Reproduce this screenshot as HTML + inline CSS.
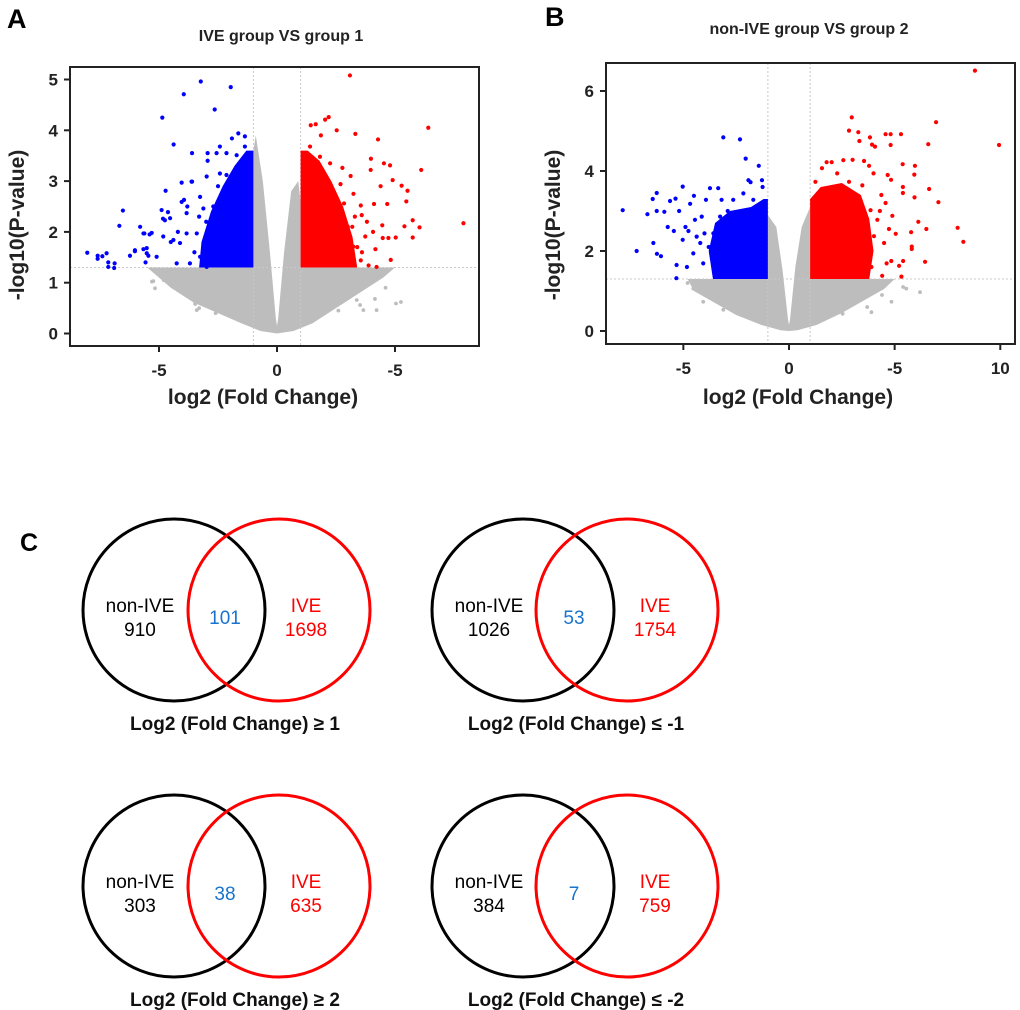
<!DOCTYPE html>
<html><head><meta charset="utf-8">
<style>
html,body{margin:0;padding:0;background:#fff;}
svg{display:block;font-family:"Liberation Sans",Arial,sans-serif;}
</style></head>
<body>
<svg id="fig" width="1020" height="1010" viewBox="0 0 1020 1010" xmlns="http://www.w3.org/2000/svg">
  <text x="7" y="28" font-size="27" font-weight="bold">A</text>
  <text x="545" y="26" font-size="27" font-weight="bold">B</text>
  <text x="20" y="551" font-size="25" font-weight="bold">C</text>
  <g id="plotA"></g>
  <g id="plotB"></g>
  <g id="venns"></g>
</svg>
<script>
// ---------- Volcano A data (log2FC, -log10 p) ----------
const aTitle = "IVE group VS group 1";
const aXTicks = [-5, 0, 5];
const aXTickLabels = ["-5", "0", "-5"];
const aYTicks = [0, 1, 2, 3, 4, 5];
const aBlueX = [-8.04,-7.6,-7.6,-7.22,-7.4,-7.15,-7.15,-6.88,-6.9,-6.68,-6.53,-6.23,-6.02,-5.8,-5.66,-5.62,-5.57,-5.52,-5.45,-5.4,-4.89,-4.86,-4.83,-4.72,-4.62,-4.38,-4.04,-3.95,-3.94,-3.6,-3.6,-3.8,-3.23,-1.96,-2.64,-2.42,-2.14,-2.56,-2.94,-2.94,-1.64,-1.36,-1.91,-1.36,-1.71,-2.98,-3.26,-3.62,-4.04,-3.83,-4.53,-4.75,-5.31,-5.66,-6.02,-5.52,-5.1,-4.82,-4.39,-4.25,-3.69,-3.26,-2.98,-2.42,-2.14,-3.12,-3.4,-2.84,-3.83,-4.11,-3.0,-3.3,-2.7,-2.5,-3.5,-4.5,-4.2];
const aBlueY = [1.59,1.53,1.47,1.58,1.52,1.40,1.31,1.38,1.29,2.12,2.42,1.53,1.62,2.10,1.66,1.97,1.40,1.68,1.53,1.95,2.43,4.25,2.26,2.81,2.39,3.72,2.97,4.71,2.63,3.55,2.99,2.50,4.96,4.85,4.41,3.68,3.55,3.55,3.55,3.40,3.94,3.88,3.84,3.68,3.51,3.09,2.69,2.99,2.59,2.37,2.27,2.23,1.98,1.97,1.64,1.58,1.51,1.91,1.84,1.38,1.38,1.51,1.31,3.15,3.12,2.46,1.97,1.84,1.97,1.78,2.2,2.3,2.5,2.9,1.6,1.8,2.0];
const aRedX = [3.09,6.41,7.9,2.19,2.04,1.43,1.64,3.32,4.28,2.53,1.86,3.98,4.53,4.79,6.11,3.97,4.9,5.28,5.53,5.48,5.75,6.04,5.75,5.4,5.03,4.72,4.48,4.82,4.22,3.88,4.17,3.74,3.81,3.55,3.24,3.59,4.11,4.67,4.39,4.46,4.07,3.4,3.19,3.12,2.77,2.69,2.39,2.84,2.53,3.23,3.09,3.55,2.69,1.82,1.4,1.19,2.04,2.25,3.0,3.3,3.6,2.9];
const aRedY = [5.08,4.05,2.17,4.26,4.21,4.10,4.12,3.93,3.82,4.0,3.9,3.44,3.35,3.31,3.22,3.22,3.02,2.91,2.81,2.6,2.23,2.09,1.89,2.11,1.89,1.88,1.88,1.45,1.31,1.34,1.66,1.91,2.2,2.52,2.75,2.33,2.55,2.55,2.9,2.13,2.0,1.7,2.1,3.1,3.26,2.94,2.79,2.56,2.37,1.71,1.38,1.44,1.97,3.48,3.68,3.26,3.1,3.35,2.1,2.3,1.6,1.9];
const aGrayX = [5.25,5.04,4.22,4.15,3.52,3.66,-5.24,-5.17,-3.4,-3.47,3.38,1.7,-5.3,-4.8,-3.66,-3.3,4.6,-4.3,-2.6,2.6];
const aGrayY = [0.62,0.59,0.46,0.68,0.56,0.46,1.03,0.89,0.46,0.58,0.66,0.53,1.02,1.05,0.70,0.50,0.9,0.9,0.4,0.45];
const aBlueCoreX = [-1,-3.3,-3.2,-2.8,-2.3,-1.8,-1.3,-1];
const aBlueCoreY = [1.3,1.3,1.8,2.4,2.9,3.3,3.6,3.6];
const aRedCoreX = [1,3.4,3.2,2.8,2.3,1.8,1.3,1];
const aRedCoreY = [1.3,1.3,1.9,2.5,3.0,3.4,3.6,3.6];
const aGrayAreaX = [-5.5,-4.5,-3.5,-2.5,-1.5,-0.7,0,0.7,1.5,2.5,3.5,4.5,5.0,1,1,0.9,0.6,0.3,0.05,0,-0.05,-0.3,-0.6,-0.9,-1,-1];
const aGrayAreaY = [1.3,0.9,0.6,0.4,0.2,0.05,0,0.05,0.2,0.5,0.8,1.1,1.3,1.3,2.6,3.0,2.8,1.6,0.3,0.15,0.3,1.6,3.0,3.9,3.6,1.3];

// ---------- Volcano B data ----------
const bTitle = "non-IVE group VS group 2";
const bXTicks = [-5, 0, 5, 10];
const bXTickLabels = ["-5", "0", "-5", "10"];
const bYTicks = [0, 2, 4, 6];
const bBlueX = [-7.87,-7.21,-6.7,-6.45,-6.26,-6.26,-6.42,-6.25,-6.06,-5.9,-5.74,-5.63,-5.37,-5.45,-5.32,-5.33,-5.2,-5.03,-5.03,-4.9,-4.76,-4.83,-4.68,-4.5,-4.45,-4.37,-4.53,-4.13,-3.93,-4.06,-3.74,-3.35,-3.19,-2.64,-3.11,-2.32,-2.05,-1.43,-1.92,-1.82,-1.28,-1.25,-1.69,-2.16,-1.61,-3.58,-3.66,-3.42,-4.0,-3.26,-3.5,-3.8,-4.2,-2.9];
const bBlueY = [3.02,2.0,2.92,3.3,3.45,3.0,2.2,1.93,1.87,2.98,2.6,3.25,3.31,2.5,1.65,1.32,3.0,3.61,2.28,2.6,2.5,1.6,3.18,3.38,2.78,2.36,1.94,2.86,3.28,1.69,3.57,3.57,3.28,3.28,4.84,4.79,4.31,4.13,3.77,3.72,3.77,3.6,3.28,3.44,2.98,2.44,2.02,1.6,2.44,2.86,1.9,2.1,2.2,3.0];
const bRedX = [8.8,9.94,6.96,6.59,2.97,2.84,3.28,3.83,4.57,4.81,5.3,4.81,4.07,3.93,3.33,1.78,2.02,2.57,3.01,3.55,3.79,4.0,5.38,5.96,5.93,6.63,7.07,5.94,5.39,5.39,4.83,4.67,6.12,6.5,5.78,5.81,5.81,7.98,8.25,6.44,5.4,5.21,5.32,4.84,4.62,4.41,5.05,4.73,4.89,4.57,4.37,4.18,4.02,3.86,3.62,3.86,3.54,1.56,1.25,2.28,2.84,3.47,4.3,4.5,3.9];
const bRedY = [6.51,4.65,5.22,4.67,5.34,5.01,4.97,4.84,4.92,4.92,4.92,4.65,4.61,4.66,4.75,4.22,4.22,4.27,4.28,4.25,4.13,3.94,4.17,4.13,3.91,3.55,3.22,3.34,3.6,3.45,3.78,3.9,2.73,2.55,2.47,2.11,2.05,2.58,2.23,1.73,1.75,1.63,1.36,1.75,1.69,1.38,2.43,2.55,2.88,3.2,3.4,2.78,2.37,2.05,1.89,3.02,2.7,4.07,3.73,3.94,3.73,3.64,3.0,2.2,1.6];
const bGrayX = [6.2,4.85,3.9,5.4,5.55,2.54,-4.06,-3.11,-4.53,4.4,3.7,-4.8,-3.6];
const bGrayY = [0.97,0.73,0.47,1.1,1.06,0.43,0.73,0.53,1.06,0.9,0.6,1.2,0.9];
const bBlueCoreX = [-1,-3.6,-3.8,-3.5,-2.8,-1.8,-1.2,-1];
const bBlueCoreY = [1.3,1.3,2.0,2.7,3.0,3.1,3.3,3.3];
const bRedCoreX = [1,3.8,4.0,3.8,3.4,2.5,1.5,1];
const bRedCoreY = [1.3,1.3,2.0,2.8,3.4,3.7,3.6,3.3];
const bGrayAreaX = [-4.8,-4.5,-3.5,-2.5,-1.3,-0.4,0,0.4,1.3,2.5,3.5,4.5,5.0,1,1,0.6,0.3,0.05,0,-0.05,-0.3,-0.6,-1,-1];
const bGrayAreaY = [1.3,1.0,0.7,0.4,0.15,0.02,0,0.02,0.15,0.45,0.75,1.05,1.3,1.3,3.1,2.6,1.6,0.3,0.15,0.3,1.5,2.6,2.9,1.3];

// ---------- Venn data ----------
const vennCaptions = ["Log2 (Fold Change) \u2265 1","Log2 (Fold Change) \u2264 -1","Log2 (Fold Change) \u2265 2","Log2 (Fold Change) \u2264 -2"];
const vennNonIVE = [910, 1026, 303, 384];
const vennShared = [101, 53, 38, 7];
const vennIVE = [1698, 1754, 635, 759];

const NS = "http://www.w3.org/2000/svg";
function mk(tag, attrs, parent){
  const e = document.createElementNS(NS, tag);
  for (const k in attrs) e.setAttribute(k, attrs[k]);
  parent.appendChild(e);
  return e;
}

function volcano(g, cfg){
  const sx = v => cfg.x0 + v * cfg.kx;
  const sy = v => cfg.y0 - v * cfg.ky;
  let pts = cfg.grayAX.map((v,i)=>sx(v)+","+sy(cfg.grayAY[i])).join(" ");
  let p = mk("polygon",{points:pts,fill:"#bdbdbd"},g);
  
  
  let l = mk("line",{x1:sx(-1),x2:sx(-1),y1:cfg.top,y2:cfg.bottom,stroke:"#c8c8c8","stroke-dasharray":"2,2","stroke-width":1},g);
  
  
  l = mk("line",{x1:sx(1),x2:sx(1),y1:cfg.top,y2:cfg.bottom,stroke:"#c8c8c8","stroke-dasharray":"2,2","stroke-width":1},g);
  
  
  l = mk("line",{x1:cfg.left,x2:cfg.right,y1:sy(1.3),y2:sy(1.3),stroke:"#c8c8c8","stroke-dasharray":"2,2","stroke-width":1},g);
  
  
  pts = cfg.blueCX.map((v,i)=>sx(v)+","+sy(cfg.blueCY[i])).join(" ");
  p = mk("polygon",{points:pts,fill:"#0000ff"},g);
  
  
  pts = cfg.redCX.map((v,i)=>sx(v)+","+sy(cfg.redCY[i])).join(" ");
  p = mk("polygon",{points:pts,fill:"#ff0000"},g);
  
  
  cfg.grayX.forEach((v,i)=>{
    const c = mk("circle",{cx:sx(v),cy:sy(cfg.grayY[i]),r:1.9,fill:"#bdbdbd"},g);
    
    
  });
  cfg.blueX.forEach((v,i)=>{
    const c = mk("circle",{cx:sx(v),cy:sy(cfg.blueY[i]),r:2.1,fill:"#0000ff"},g);
    
    
  });
  cfg.redX.forEach((v,i)=>{
    const c = mk("circle",{cx:sx(v),cy:sy(cfg.redY[i]),r:2.1,fill:"#ff0000"},g);
    
    
  });
  const f = mk("rect",{x:cfg.left,y:cfg.top,width:cfg.right-cfg.left,height:cfg.bottom-cfg.top,fill:"none",stroke:"#222","stroke-width":2},g);
  
  
  cfg.xTicks.forEach((v,i)=>{
    const t = mk("line",{x1:sx(v),x2:sx(v),y1:cfg.bottom,y2:cfg.bottom+6,stroke:"#222","stroke-width":2},g);
    
    
    const tx = mk("text",{x:sx(v),y:cfg.bottom+30,"text-anchor":"middle","font-size":17,"font-weight":"bold",fill:"#222"},g);
    tx.textContent = cfg.xLabels[i];
    
    
  });
  cfg.yTicks.forEach(v=>{
    const t = mk("line",{x1:cfg.left-6,x2:cfg.left,y1:sy(v),y2:sy(v),stroke:"#222","stroke-width":2},g);
    
    
    const tx = mk("text",{x:cfg.left-12,y:sy(v)+6,"text-anchor":"end","font-size":17,"font-weight":"bold",fill:"#222"},g);
    tx.textContent = String(v);
    
    
  });
  let t = mk("text",{x:cfg.titleX,y:cfg.titleY,"text-anchor":"middle","font-size":16,"font-weight":"bold",fill:"#222"},g);
  t.textContent = cfg.title;
  
  
  t = mk("text",{x:cfg.xTitleX,y:404,"text-anchor":"middle","font-size":21,"font-weight":"bold",fill:"#222"},g);
  t.textContent = "log2 (Fold Change)";
  
  
  t = mk("text",{x:0,y:0,"text-anchor":"middle","font-size":21,"font-weight":"bold",fill:"#222",transform:"translate("+cfg.yTitleX+",225) rotate(-90)"},g);
  t.textContent = "-log10(P-value)";
  
  
}

volcano(document.getElementById("plotA"),{
  x0:277,kx:23.6,y0:333.5,ky:50.8,left:70,right:479,top:67,bottom:346,
  xTicks:aXTicks,xLabels:aXTickLabels,yTicks:aYTicks,
  blueX:aBlueX,blueY:aBlueY,redX:aRedX,redY:aRedY,grayX:aGrayX,grayY:aGrayY,
  blueCX:aBlueCoreX,blueCY:aBlueCoreY,redCX:aRedCoreX,redCY:aRedCoreY,grayAX:aGrayAreaX,grayAY:aGrayAreaY,
  title:aTitle,titleX:281,titleY:41,xTitleX:263,yTitleX:24
});
volcano(document.getElementById("plotB"),{
  x0:789,kx:21.13,y0:331,ky:40,left:606,right:1015,top:63,bottom:344,
  xTicks:bXTicks,xLabels:bXTickLabels,yTicks:bYTicks,
  blueX:bBlueX,blueY:bBlueY,redX:bRedX,redY:bRedY,grayX:bGrayX,grayY:bGrayY,
  blueCX:bBlueCoreX,blueCY:bBlueCoreY,redCX:bRedCoreX,redCY:bRedCoreY,grayAX:bGrayAreaX,grayAY:bGrayAreaY,
  title:bTitle,titleX:809,titleY:34,xTitleX:798,yTitleX:560
});

const vg = document.getElementById("venns");
const vennCX = [174, 523, 174, 523];
const vennCY = [610, 610, 886, 886];
vennCaptions.forEach((cap,i)=>{
  const cx = vennCX[i], cy = vennCY[i], off = i%2 ? 104 : 105;
  const g = mk("g",{},vg);
  
  
  let c = mk("ellipse",{cx:cx,cy:cy,rx:91,ry:91,fill:"none",stroke:"#000","stroke-width":3},g);
  
  
  c = mk("ellipse",{cx:cx+off,cy:cy,rx:91,ry:91,fill:"none",stroke:"#ff0000","stroke-width":3},g);
  
  
  const lines = [
    [cx-34,cy+2,"non-IVE","#000",'non-ive-label'],
    [cx-34,cy+26,String(vennNonIVE[i]),"#000",'non-ive-count'],
    [cx+51,cy+14,String(vennShared[i]),"#1874cd",'shared-count'],
    [cx+132,cy+2,"IVE","#ff0000",'ive-label'],
    [cx+132,cy+26,String(vennIVE[i]),"#ff0000",'ive-count']
  ];
  lines.forEach(L=>{
    const t = mk("text",{x:L[0],y:L[1],"text-anchor":"middle","font-size":19,fill:L[3]},g);
    t.textContent = L[2];
    
    
  });
  const t = mk("text",{x:cx+(i%2?53:61),y:cy+120,"text-anchor":"middle","font-size":19,"font-weight":"bold",fill:"#111"},g);
  t.textContent = cap;
  
  
});
</script>
</body></html>
